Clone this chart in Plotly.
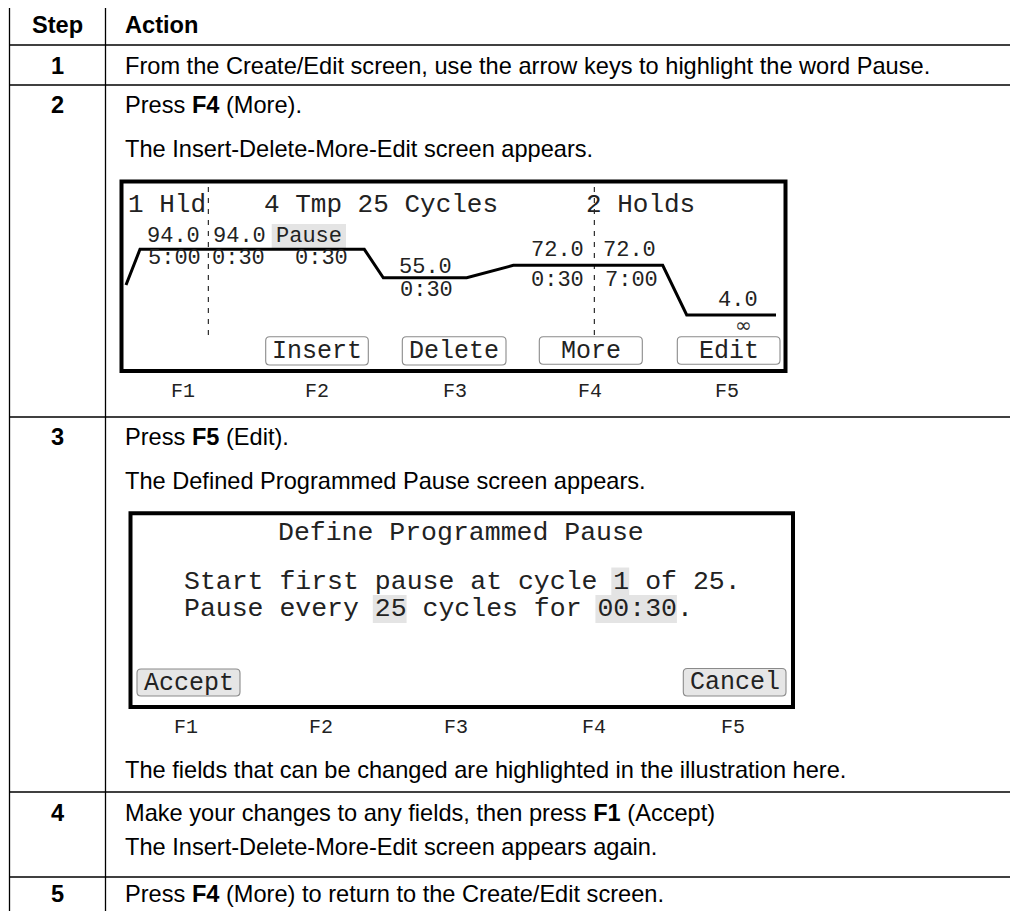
import plotly.graph_objects as go

# ------------------------------------------------------------------ data
header_cells = ["Step", "Action"]
step_labels = ["1", "2", "3", "4", "5"]
action_lines = [
    ["From the Create/Edit screen, use the arrow keys to highlight the word Pause."],
    ["Press <b>F4</b> (More).", "The Insert-Delete-More-Edit screen appears."],
    ["Press <b>F5</b> (Edit).", "The Defined Programmed Pause screen appears.",
     "The fields that can be changed are highlighted in the illustration here."],
    ["Make your changes to any fields, then press <b>F1</b> (Accept)",
     "The Insert-Delete-More-Edit screen appears again."],
    ["Press <b>F4</b> (More) to return to the Create/Edit screen."],
]

fkey_labels = ["F1", "F2", "F3", "F4", "F5"]

# screen 1 (Insert-Delete-More-Edit)
s1_groups = ["1 Hld", "4 Tmp 25 Cycles", "2 Holds"]
s1_temps = ["94.0", "94.0", "55.0", "72.0", "72.0", "4.0"]
s1_times = ["5:00", "0:30", "0:30", "0:30", "7:00", "\u221e"]
s1_pause_label = "Pause"
s1_pause_time = "0:30"
profile_temps = [45.0, 94.0, 94.0, 55.0, 55.0, 72.0, 72.0, 4.0, 4.0]
s1_softkeys = ["", "Insert", "Delete", "More", "Edit"]

# screen 2 (Define Programmed Pause)
s2_title = "Define Programmed Pause"
s2_lines = ["Start first pause at cycle 1 of 25.", "Pause every 25 cycles for 00:30."]
s2_fields = [(0, 27, 1), (1, 12, 2), (1, 26, 5)]   # (line, first char, length)
s2_softkeys = ["Accept", "", "", "", "Cancel"]

# ------------------------------------------------------------------ layout constants
PAGE_W, PAGE_H = 1018, 911
OFF = 8                                   # browser body margin
W, H = PAGE_W - OFF, PAGE_H - OFF
SANS = "Liberation Sans, Arial, Helvetica, sans-serif"
MONO = "Liberation Mono, Courier New, monospace"
MONO_C = "#222"
BODY = 23.6

X_L, X_DIV, X_R = 9.5, 105.5, 1017.3
ROW_LINES = [5, 45, 85, 417, 792, 877]
STEP_X = (X_L + X_DIV) / 2
TEXT_X = 124
HEADER_Y = 25
LINE_Y = [[65.5], [105, 148.5], [437, 481, 770], [813, 847], [894]]

# screen 1 geometry
B1 = (121.5, 181.5, 785.5, 371)
S1_GROUP_X = [127, 263, 585]
S1_GROUP_Y = 205
S1_TEMP_POS = [(173, 236), (239, 236), (425, 267.5), (557, 250), (629, 250), (738, 300)]
S1_TIME_POS = [(174, 258), (238, 258), (426, 290), (557, 280), (631, 280), (743, 325)]
S1_PAUSE_BOX = (271.7, 224, 346, 248.3)
S1_PAUSE_TIME_POS = (321, 258)
PROFILE_X = [126, 140, 364.3, 383.3, 466.7, 513.3, 662.7, 686.7, 776]
PROF_T_HI, PROF_PX_HI = 94.0, 249.3   # scale anchors (temperature -> page row)
PROF_T_LO, PROF_PX_LO = 4.0, 315.0
DASH_X = [208.3, 594.3]
DASH_Y = (187, 336)
S1_KEY_BOXES = [None, (265.7, 336.7, 368.3, 365), (402.3, 336.7, 506, 365),
                (539.3, 336.7, 642.3, 364.3), (677.3, 336.7, 780, 364.3)]
S1_F_X = [182.7, 316.7, 455, 590, 726.7]
S1_F_Y = 391.7

# screen 2 geometry
B2 = (130.5, 513.3, 793, 707)
S2_TITLE_POS = (461, 533)
S2_TEXT_X = 183
S2_LINE_Y = [581.5, 609]
S2_FS = 26.5
S2_KEY_BOXES = [(137, 669, 240, 696), None, None, None, (683.3, 668.5, 786, 696)]
S2_F_X = [186, 321, 456, 594, 733]
S2_F_Y = 727

# ------------------------------------------------------------------ helpers
shapes, annos = [], []


def line(x0, y0, x1, y1, w=1.3, color="black", dash=None):
    d = dict(type="line", x0=x0, y0=y0, x1=x1, y1=y1, xref="x", yref="y",
             line=dict(color=color, width=w))
    if dash:
        d["line"]["dash"] = dash
    shapes.append(d)


def rect(x0, y0, x1, y1, w=0, color="black", fill=None, layer="above"):
    d = dict(type="rect", x0=x0, y0=y0, x1=x1, y1=y1, xref="x", yref="y",
             line=dict(color=color, width=w), layer=layer)
    if fill:
        d["fillcolor"] = fill
    shapes.append(d)


def rrect(x0, y0, x1, y1, r=4, fill="white", color="#8a8a8a", w=1.1):
    p = (f"M{x0+r},{y0} L{x1-r},{y0} Q{x1},{y0} {x1},{y0+r} L{x1},{y1-r} "
         f"Q{x1},{y1} {x1-r},{y1} L{x0+r},{y1} Q{x0},{y1} {x0},{y1-r} "
         f"L{x0},{y0+r} Q{x0},{y0} {x0+r},{y0} Z")
    shapes.append(dict(type="path", path=p, xref="x", yref="y", fillcolor=fill,
                       line=dict(color=color, width=w), layer="below"))


def text(x, y, s, size=BODY, family=SANS, anchor="left", color="black"):
    annos.append(dict(x=x, y=y, xref="x", yref="y", text=s, showarrow=False,
                      xanchor=anchor, yanchor="middle", borderpad=0,
                      font=dict(family=family, size=size, color=color)))


# ------------------------------------------------------------------ table
for y in ROW_LINES:
    line(X_L, y, X_R, y)
for x in (X_L, X_DIV, X_R):
    line(x, ROW_LINES[0], x, PAGE_H + 2)

text(STEP_X, HEADER_Y, f"<b>{header_cells[0]}</b>", anchor="center")
text(TEXT_X, HEADER_Y, f"<b>{header_cells[1]}</b>")
for i, lab in enumerate(step_labels):
    text(STEP_X, LINE_Y[i][0], f"<b>{lab}</b>", anchor="center")
    for s, y in zip(action_lines[i], LINE_Y[i]):
        text(TEXT_X, y, s)

# ------------------------------------------------------------------ screen 1
rect(*B1, w=4)
for x in DASH_X:
    line(x, DASH_Y[0], x, DASH_Y[1], w=1, dash="5px,6px")
for s, x in zip(s1_groups, S1_GROUP_X):
    text(x, S1_GROUP_Y, s, size=26, family=MONO, color=MONO_C)
rect(*S1_PAUSE_BOX, fill="#e4e4e4", layer="below")
text((S1_PAUSE_BOX[0] + S1_PAUSE_BOX[2]) / 2, (S1_PAUSE_BOX[1] + S1_PAUSE_BOX[3]) / 2,
     s1_pause_label, size=22, family=MONO, anchor="center", color=MONO_C)
text(*S1_PAUSE_TIME_POS, s1_pause_time, size=22, family=MONO, anchor="center", color=MONO_C)
for s, (x, y) in zip(s1_temps, S1_TEMP_POS):
    text(x, y, s, size=22, family=MONO, anchor="center", color=MONO_C)
for s, (x, y) in zip(s1_times, S1_TIME_POS):
    if s == "\u221e":
        text(x, y, s, size=20, family="DejaVu Sans", anchor="center", color="#333")
    else:
        text(x, y, s, size=22, family=MONO, anchor="center", color=MONO_C)
for s, b in zip(s1_softkeys, S1_KEY_BOXES):
    if b:
        rrect(*b)
        text((b[0] + b[2]) / 2, (b[1] + b[3]) / 2 + 0.5, s, size=25, family=MONO,
             anchor="center", color=MONO_C)
for s, x in zip(fkey_labels, S1_F_X):
    text(x, S1_F_Y, s, size=20, family=MONO, anchor="center", color="#222")

# ------------------------------------------------------------------ screen 2
rect(*B2, w=4)
text(*S2_TITLE_POS, s2_title, size=S2_FS, family=MONO, anchor="center", color=MONO_C)
adv = 0.6 * S2_FS
for li, first, n in s2_fields:
    x0 = S2_TEXT_X + first * adv
    rect(x0 - 1, S2_LINE_Y[li] - 14, x0 + n * adv + 1, S2_LINE_Y[li] + 14,
         fill="#e4e4e4", layer="below")
for s, y in zip(s2_lines, S2_LINE_Y):
    text(S2_TEXT_X, y, s, size=S2_FS, family=MONO, color=MONO_C)
for s, b in zip(s2_softkeys, S2_KEY_BOXES):
    if b:
        rrect(*b, fill="#e6e6e6")
        text((b[0] + b[2]) / 2, (b[1] + b[3]) / 2 + 0.5, s, size=25, family=MONO,
             anchor="center", color=MONO_C)
for s, x in zip(fkey_labels, S2_F_X):
    text(x, S2_F_Y, s, size=20, family=MONO, anchor="center", color="#222")

# ------------------------------------------------------------------ figure
k = (PROF_PX_LO - PROF_PX_HI) / (PROF_T_HI - PROF_T_LO)      # px per degree
y2_max = PROF_T_HI + (PROF_PX_HI - OFF) / k
y2_min = y2_max - H / k

fig = go.Figure()
fig.add_trace(go.Scatter(x=PROFILE_X, y=profile_temps, mode="lines", xaxis="x", yaxis="y2",
                         line=dict(color="black", width=3), hoverinfo="skip", showlegend=False))
fig.update_layout(
    width=W, height=H, margin=dict(l=0, r=0, t=0, b=0),
    paper_bgcolor="white", plot_bgcolor="white",
    xaxis=dict(range=[OFF, PAGE_W], visible=False, fixedrange=True),
    yaxis=dict(range=[PAGE_H, OFF], visible=False, fixedrange=True),
    yaxis2=dict(range=[y2_min, y2_max], overlaying="y", visible=False, fixedrange=True),
    shapes=shapes, annotations=annos, showlegend=False,
)
fig.write_html("out.html")
